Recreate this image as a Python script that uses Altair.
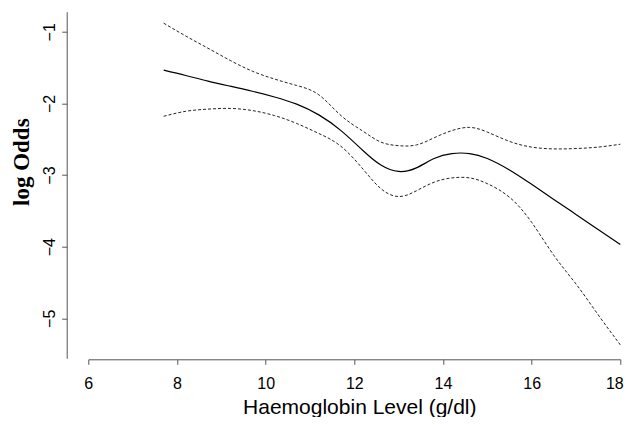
import altair as alt
import pandas as pd

# Haemoglobin level (g/dl) grid
hb = [7.7, 8.2, 8.7, 9.2, 9.7, 10.2, 10.7, 11.2, 11.7, 12.2, 12.6, 13.0,
      13.4, 13.8, 14.2, 14.6, 15.0, 15.5, 16.0, 16.5, 17.0, 17.5, 18.0]
# fitted log odds
fit = [-1.535, -1.61, -1.69, -1.76, -1.83, -1.91, -2.01, -2.16, -2.38, -2.66,
       -2.86, -2.95, -2.90, -2.77, -2.70, -2.70, -2.77, -2.93, -3.13, -3.34,
       -3.55, -3.76, -3.97]
# upper confidence band
upper = [-0.88, -1.06, -1.23, -1.40, -1.55, -1.66, -1.75, -1.88, -2.17, -2.39,
         -2.54, -2.59, -2.58, -2.48, -2.38, -2.335, -2.40, -2.53, -2.61, -2.635,
         -2.63, -2.61, -2.57]
# lower confidence band
lower = [-2.18, -2.11, -2.08, -2.07, -2.10, -2.17, -2.28, -2.42, -2.60, -2.92,
         -3.19, -3.30, -3.22, -3.10, -3.04, -3.04, -3.12, -3.31, -3.66, -4.12,
         -4.52, -4.95, -5.37]

x_ticks = [6, 8, 10, 12, 14, 16, 18]
y_ticks = [-1, -2, -3, -4, -5]

rows = []
for name, vals in (("fit", fit), ("upper", upper), ("lower", lower)):
    for x, y in zip(hb, vals):
        rows.append({"hb": x, "logodds": y, "series": name})
df = pd.DataFrame(rows)

xs = alt.Scale(domain=[6, 18], nice=False, zero=False)
ys = alt.Scale(domain=[-5.558, -0.72], nice=False, zero=False)

xaxis = alt.Axis(
    values=x_ticks, title="Haemoglobin Level (g/dl)", grid=False, tickSize=5,
    labelFont="Liberation Sans", labelFontSize=16, labelPadding=11,
    labelFlush=False, labelOverlap=False, labelColor="black",
    labelOffset={"condition": {"test": "datum.value === 18", "value": -6}, "value": 0},
    titleFont="Liberation Sans", titleFontSize=21, titleFontWeight="normal",
    titleColor="black", titleX=271, titleY=54, titleAlign="center",
    titleBaseline="alphabetic", domainColor="#555", tickColor="#555",
    domainWidth=1, tickWidth=1, offset=1,
)
yaxis = alt.Axis(
    values=y_ticks, format="d", title="log Odds", grid=False, tickSize=5,
    labelAngle=270, labelAlign="center", labelBaseline="alphabetic",
    labelFont="Liberation Sans", labelFontSize=16, labelPadding=7,
    labelFlush=False, labelOverlap=False, labelColor="black",
    titleFont="Liberation Serif", titleFontSize=23, titleFontWeight="bold",
    titleColor="black", titleAngle=270, titleX=-38, titleY=150,
    titleAlign="center", titleBaseline="alphabetic",
    domainColor="#555", tickColor="#555", domainWidth=1, tickWidth=1,
    offset=21.6,
)

base = alt.Chart(df)

fit_line = base.transform_filter(alt.datum.series == "fit").mark_line(
    color="black", strokeWidth=1.2, interpolate="natural"
).encode(
    x=alt.X("hb:Q", scale=xs, axis=xaxis),
    y=alt.Y("logodds:Q", scale=ys, axis=yaxis),
)

ci_lines = base.transform_filter(alt.datum.series != "fit").mark_line(
    color="#222", strokeWidth=1, strokeDash=[3, 2], interpolate="natural"
).encode(
    x=alt.X("hb:Q", scale=xs),
    y=alt.Y("logodds:Q", scale=ys),
    detail="series:N",
)

chart = alt.layer(ci_lines, fit_line).properties(
    width=532, height=346.6,
    autosize=alt.AutoSizeParams(type="none"),
    padding={"left": 80.3, "top": 3.7, "right": 3.7, "bottom": 58.7},
    background="white",
).configure_view(stroke=None)

chart.save("out.html", embed_options={"renderer": "svg", "actions": False})
